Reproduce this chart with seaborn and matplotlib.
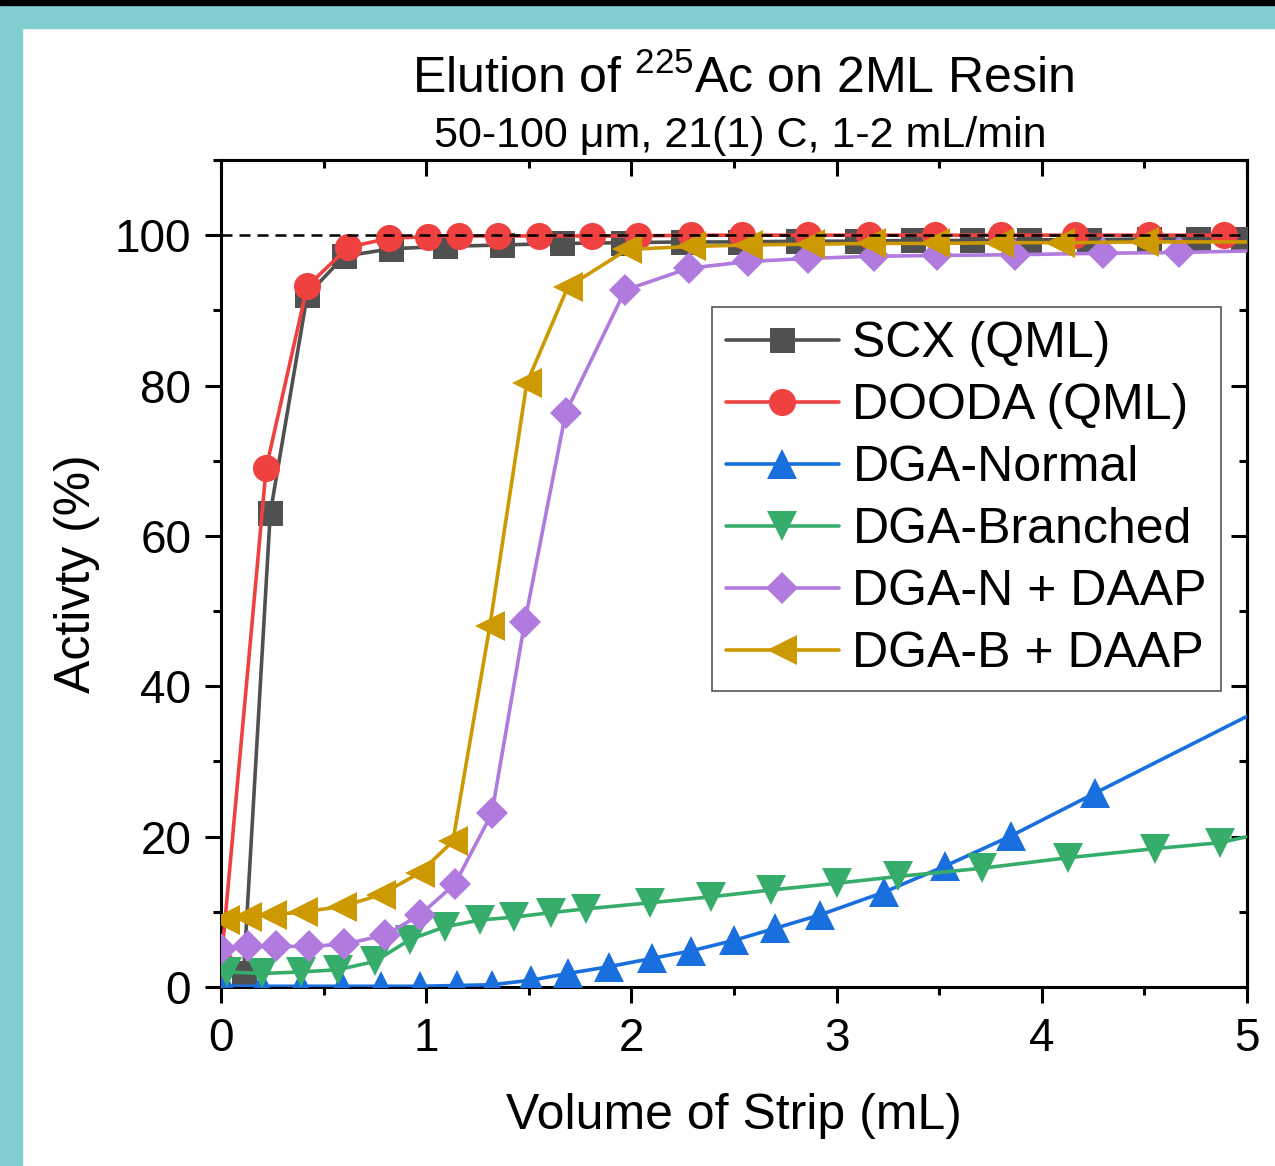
import numpy as np
import pandas as pd
import matplotlib
matplotlib.use("Agg")
import matplotlib.pyplot as plt
from matplotlib.patches import Rectangle
from matplotlib.lines import Line2D
from matplotlib.ticker import MultipleLocator
import seaborn as sns

# ---------------- data ----------------
scx_x = [0.11, 0.24, 0.42, 0.60, 0.83, 1.09, 1.37, 1.66, 1.96, 2.25, 2.53, 2.81,
         3.10, 3.37, 3.66, 3.94, 4.23, 4.52, 4.76, 4.98]
scx_y = [1.8, 63.0, 92.0, 97.2, 98.2, 98.5, 98.7, 98.9, 99.0, 99.1, 99.1, 99.2,
         99.2, 99.3, 99.3, 99.4, 99.4, 99.5, 99.5, 99.5]

dooda_x = [0.0, 0.22, 0.42, 0.62, 0.82, 1.01, 1.16, 1.35, 1.55, 1.81, 2.03, 2.29,
           2.54, 2.86, 3.16, 3.48, 3.80, 4.16, 4.52, 4.89]
dooda_y = [3.0, 69.0, 93.2, 98.4, 99.6, 99.8, 99.9, 99.9, 99.9, 99.9, 99.9, 100.0,
           100.0, 100.0, 100.0, 100.0, 100.0, 100.0, 100.0, 100.0]

dgan_x = [0.02, 0.20, 0.39, 0.59, 0.78, 0.97, 1.15, 1.32, 1.51, 1.69, 1.89, 2.10,
          2.29, 2.50, 2.70, 2.92, 3.23, 3.53, 3.85, 4.26, 5.0]
dgan_y = [0.1, 0.1, 0.1, 0.1, 0.1, 0.1, 0.2, 0.3, 0.9, 1.8, 2.7, 3.8,
          4.8, 6.2, 7.8, 9.6, 12.6, 16.1, 20.1, 25.8, 36.0]

dgab_x = [0.03, 0.20, 0.39, 0.57, 0.75, 0.92, 1.09, 1.26, 1.43, 1.61, 1.78, 2.09,
          2.39, 2.68, 3.00, 3.30, 3.71, 4.13, 4.55, 4.87, 5.0]
dgab_y = [2.0, 1.8, 2.0, 2.3, 3.4, 6.3, 8.0, 8.9, 9.3, 9.9, 10.4, 11.2,
          12.0, 12.9, 13.8, 14.7, 15.8, 17.2, 18.4, 19.2, 20.0]

dgan_daap_x = [0.0, 0.13, 0.27, 0.43, 0.60, 0.80, 0.97, 1.14, 1.32, 1.48, 1.68, 1.97,
               2.28, 2.57, 2.86, 3.18, 3.49, 3.87, 4.30, 4.67, 5.0]
dgan_daap_y = [5.0, 5.4, 5.4, 5.4, 5.7, 6.9, 9.6, 13.7, 23.1, 48.5, 76.4, 92.7,
               95.6, 96.5, 96.9, 97.2, 97.3, 97.4, 97.6, 97.7, 97.9]

dgab_daap_x = [0.02, 0.125, 0.25, 0.40, 0.59, 0.78, 0.97, 1.13, 1.31, 1.49, 1.69, 1.98,
               2.29, 2.57, 2.87, 3.17, 3.48, 3.79, 4.09, 4.50, 5.0]
dgab_daap_y = [8.9, 9.3, 9.6, 10.0, 10.7, 12.3, 15.2, 19.4, 48.0, 80.3, 93.1, 98.1,
               98.5, 98.7, 98.8, 98.9, 98.9, 99.0, 99.0, 99.1, 99.1]

labels = ["SCX (QML)", "DOODA (QML)", "DGA-Normal", "DGA-Branched",
          "DGA-N + DAAP", "DGA-B + DAAP"]

xticks = [0, 1, 2, 3, 4, 5]
yticks = [0, 20, 40, 60, 80, 100]

# ---------------- style ----------------
sns.set_style("ticks")
plt.rcParams["font.family"] = ["Liberation Sans", "DejaVu Sans"]
plt.rcParams["mathtext.fontset"] = "custom"
plt.rcParams["mathtext.rm"] = "Liberation Sans"
plt.rcParams["mathtext.it"] = "Liberation Sans:italic"
plt.rcParams["mathtext.default"] = "regular"
for k in ["text.color", "axes.labelcolor", "xtick.color", "ytick.color", "axes.edgecolor"]:
    plt.rcParams[k] = "black"

W, H = 1275, 1166
fig = plt.figure(figsize=(W / 100, H / 100), dpi=100)
fig.patch.set_facecolor("white")

# teal frame of the screenshot
teal = "#80CED0"
fig.patches.append(Rectangle((0, 0), 22 / W, 1, transform=fig.transFigure,
                             color=teal, zorder=-5))
fig.patches.append(Rectangle((0, 1 - 28 / H), 1, 23 / H, transform=fig.transFigure,
                             color=teal, zorder=-5))
fig.patches.append(Rectangle((0, 1 - 5 / H), 1, 5 / H, transform=fig.transFigure,
                             color="black", zorder=-5))

ax = fig.add_axes([221 / W, 1 - 987 / H, 1026 / W, 827 / H])
ax.set_facecolor("white")

# (x, y, colour, marker, size, last point lies on the right edge without a marker)
series = [
    (scx_x, scx_y, "#505050", "s", 18, False),
    (dooda_x, dooda_y, "#F04141", "o", 19.5, False),
    (dgan_x, dgan_y, "#1A6FDF", "^", 22, True),
    (dgab_x, dgab_y, "#37AD6B", "v", 22, True),
    (dgan_daap_x, dgan_daap_y, "#B07ADE", "D", 16, True),
    (dgab_daap_x, dgab_daap_y, "#CC9900", "<", 22, True),
]

LW = 2.6
handles = []
for i, ((sx, sy, col, mk, ms, edge), lab) in enumerate(zip(series, labels)):
    df = pd.DataFrame({"x": sx, "y": sy})
    every = list(range(len(sx) - 1)) if edge else None
    sns.lineplot(data=df, x="x", y="y", ax=ax, color=col, marker=mk,
                 markersize=ms, markeredgewidth=0, linewidth=LW, markevery=every,
                 estimator=None, sort=False, zorder=3 + i, legend=False)
    handles.append(Line2D([], [], color=col, marker=mk, markersize=ms,
                          markeredgewidth=0, linewidth=LW))

# dashed 100 % reference line
ax.axhline(100, color="black", linewidth=1.8, linestyle=(0, (4.4, 2.8)), zorder=20)

ax.set_xlim(0, 5)
ax.set_ylim(0, 110)
ax.set_xticks(xticks)
ax.set_yticks(yticks)
ax.xaxis.set_minor_locator(MultipleLocator(0.5))
ax.yaxis.set_minor_locator(MultipleLocator(10))

for sp in ax.spines.values():
    sp.set_linewidth(2.2)
    sp.set_color("black")
    sp.set_visible(True)

ax.tick_params(axis="both", which="major", direction="out", length=11.5, width=2.2,
               labelsize=33, colors="black", pad=10)
ax.tick_params(axis="both", which="minor", direction="out", length=5.5, width=2.2)
ax.tick_params(top=False, right=False, which="both")

# mirrored inward ticks on top and right
secx = ax.secondary_xaxis("top")
secx.set_xticks(xticks)
secx.xaxis.set_minor_locator(MultipleLocator(0.5))
secx.tick_params(which="major", direction="in", length=11.5, width=2.2, labeltop=False)
secx.tick_params(which="minor", direction="in", length=5.5, width=2.2)
secx.spines["top"].set_linewidth(2.2)
secy = ax.secondary_yaxis("right")
secy.set_yticks(yticks)
secy.yaxis.set_minor_locator(MultipleLocator(10))
secy.tick_params(which="major", direction="in", length=11.5, width=2.2, labelright=False)
secy.tick_params(which="minor", direction="in", length=5.5, width=2.2)
secy.spines["right"].set_linewidth(2.2)

ax.set_xlabel("Volume of Strip (mL)", fontsize=36)
ax.set_ylabel("Activty (%)", fontsize=36)
ax.xaxis.set_label_coords(0.5, (987 - 1093) / 827)
ax.yaxis.set_label_coords((100 - 221) / 1026, 0.5)

# titles
fig.text(743 / W, 1 - 93 / H, "Elution of $^{225}$Ac on 2ML Resin", fontsize=36,
         ha="center", va="baseline")
fig.text(740 / W, 1 - 147 / H, "50-100 \u03bcm, 21(1) C, 1-2 mL/min", fontsize=31,
         ha="center", va="baseline")

leg = ax.legend(handles, labels, loc="upper left",
                bbox_to_anchor=((712 - 221) / 1026, (987 - 307) / 827),
                borderaxespad=0, frameon=True, fancybox=False, fontsize=36,
                handlelength=2.25, handletextpad=0.28, labelspacing=0.32,
                borderpad=0.28)
leg.get_frame().set_edgecolor("#555555")
leg.get_frame().set_linewidth(1.2)
leg.get_frame().set_alpha(1)
leg.set_zorder(30)

fig.savefig("out.png", dpi=100, facecolor=fig.get_facecolor())
